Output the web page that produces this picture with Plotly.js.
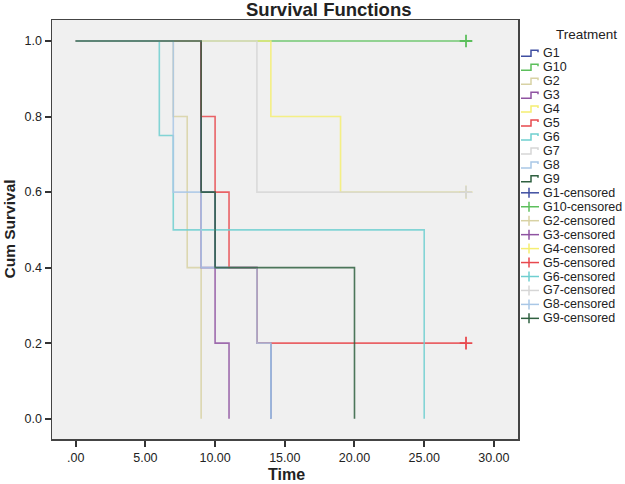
<!DOCTYPE html>
<html><head><meta charset="utf-8">
<script src="https://cdn.plot.ly/plotly-3.0.1.min.js"></script>
<style>html,body{margin:0;padding:0;background:#fff}#chart{width:625px;height:484px}</style>
</head><body><div id="chart"></div>
<script>
// ---- data ----
const groupNames = ["G1","G10","G2","G3","G4","G5","G6","G7","G8","G9"];
const groupColors = ["#3f4ea1","#5cbf5c","#d8d2a4","#8f53a1","#f5ee72","#e8494e","#6fcfd0","#d6d6d6","#a9c7e6","#2f6040"];

const g1Time  = [0, 9, 10, 13, 14];        const g1Surv  = [1, 0.6, 0.4, 0.2, 0];
const g10Time = [0, 28];                   const g10Surv = [1, 1];
const g2Time  = [0, 7, 8, 9];              const g2Surv  = [1, 0.8, 0.4, 0];
const g3Time  = [0, 9, 10, 11];            const g3Surv  = [1, 0.4, 0.2, 0];
const g4Time  = [0, 14, 19, 28];           const g4Surv  = [1, 0.8, 0.6, 0.6];
const g5Time  = [0, 9, 10, 11, 13, 28];    const g5Surv  = [1, 0.8, 0.6, 0.4, 0.2, 0.2];
const g6Time  = [0, 6, 7, 25];             const g6Surv  = [1, 0.75, 0.5, 0];
const g7Time  = [0, 13, 28];               const g7Surv  = [1, 0.6, 0.6];
const g8Time  = [0, 7, 9, 13, 14];         const g8Surv  = [1, 0.6, 0.4, 0.2, 0];
const g9Time  = [0, 9, 10, 20];            const g9Surv  = [1, 0.6, 0.4, 0];

const g1CensTime = [];    const g1CensSurv = [];
const g10CensTime = [28]; const g10CensSurv = [1];
const g2CensTime = [];    const g2CensSurv = [];
const g3CensTime = [];    const g3CensSurv = [];
const g4CensTime = [28];  const g4CensSurv = [0.6];
const g5CensTime = [28];  const g5CensSurv = [0.2];
const g6CensTime = [];    const g6CensSurv = [];
const g7CensTime = [28];  const g7CensSurv = [0.6];
const g8CensTime = [];    const g8CensSurv = [];
const g9CensTime = [];    const g9CensSurv = [];

const xTickVals = [0, 5, 10, 15, 20, 25, 30];
const xTickText = [".00", "5.00", "10.00", "15.00", "20.00", "25.00", "30.00"];
const yTickVals = [0, 0.2, 0.4, 0.6, 0.8, 1.0];
const yTickText = ["0.0", "0.2", "0.4", "0.6", "0.8", "1.0"];

const legendTitle = "Treatment";
const chartTitle = "Survival Functions";
const xTitle = "Time";
const yTitle = "Cum Survival";

// ---- build ----
const stepT = [g1Time,g10Time,g2Time,g3Time,g4Time,g5Time,g6Time,g7Time,g8Time,g9Time];
const stepS = [g1Surv,g10Surv,g2Surv,g3Surv,g4Surv,g5Surv,g6Surv,g7Surv,g8Surv,g9Surv];
const censT = [g1CensTime,g10CensTime,g2CensTime,g3CensTime,g4CensTime,g5CensTime,g6CensTime,g7CensTime,g8CensTime,g9CensTime];
const censS = [g1CensSurv,g10CensSurv,g2CensSurv,g3CensSurv,g4CensSurv,g5CensSurv,g6CensSurv,g7CensSurv,g8CensSurv,g9CensSurv];

const traces = [];
groupNames.forEach((g, i) => {
  traces.push({type:'scatter', mode:'lines', x: stepT[i], y: stepS[i], name: g,
    line:{shape:'hv', color: groupColors[i], width: 1.6}, opacity: 0.85, showlegend:false, hoverinfo:'skip'});
});
groupNames.forEach((g, i) => {
  traces.push({type:'scatter', mode:'markers', x: censT[i], y: censS[i], name: g + '-censored',
    marker:{symbol:'cross-thin-open', size:9, color: groupColors[i], line:{color: groupColors[i], width:1.8}},
    showlegend:false, hoverinfo:'skip'});
});

const W = 625, H = 484, ml = 52, mr = 107, mt = 20, mb = 45;
const pw = W - ml - mr, ph = H - mt - mb;
const px2x = px => (px - ml) / pw;
const py2y = py => (H - mb - py) / ph;

const shapes = [];
const annotations = [];
const font = 'Liberation Sans, Arial, sans-serif';

annotations.push({xref:'paper', yref:'paper', x: px2x(586), y: py2y(34), text: legendTitle, showarrow:false,
  xanchor:'center', yanchor:'middle', font:{family:font, size:13.5, color:'#222'}});

const entries = [];
groupNames.forEach((g, i) => entries.push({label: g, color: groupColors[i], kind: 'step'}));
groupNames.forEach((g, i) => entries.push({label: g + '-censored', color: groupColors[i], kind: 'cens'}));

entries.forEach((e, k) => {
  const cy = 53.3 + k * 13.95;
  const ln = {color: e.color, width: 1.5};
  if (e.kind === 'step') {
    shapes.push({type:'path', xref:'paper', yref:'paper', line: ln,
      path: `M ${px2x(521)} ${py2y(cy+3)} L ${px2x(531)} ${py2y(cy+3)} L ${px2x(531)} ${py2y(cy-3)} L ${px2x(538)} ${py2y(cy-3)} L ${px2x(538)} ${py2y(cy-1)}`});
  } else {
    shapes.push({type:'line', xref:'paper', yref:'paper', line: ln, x0: px2x(521), x1: px2x(539), y0: py2y(cy), y1: py2y(cy)});
    shapes.push({type:'line', xref:'paper', yref:'paper', line: ln, x0: px2x(529), x1: px2x(529), y0: py2y(cy-5), y1: py2y(cy+5)});
  }
  annotations.push({xref:'paper', yref:'paper', x: px2x(541), y: py2y(cy), text: e.label, showarrow:false,
    xanchor:'left', yanchor:'middle', font:{family:font, size:12.5, color:'#222'}});
});

annotations.push({xref:'paper', yref:'paper', x: px2x(329), y: py2y(10), text: '<b>' + chartTitle + '</b>', showarrow:false,
  xanchor:'center', yanchor:'middle', font:{family:font, size:18.5, color:'#222'}});
annotations.push({xref:'paper', yref:'paper', x: px2x(286), y: py2y(474.5), text: '<b>' + xTitle + '</b>', showarrow:false,
  xanchor:'center', yanchor:'middle', font:{family:font, size:16, color:'#222'}});
annotations.push({xref:'paper', yref:'paper', x: px2x(9), y: py2y(229.5), text: '<b>' + yTitle + '</b>', showarrow:false,
  textangle:-90, xanchor:'center', yanchor:'middle', font:{family:font, size:15.5, color:'#222'}});

const layout = {
  width: W, height: H,
  margin: {l: ml, r: mr, t: mt, b: mb, pad: 0},
  paper_bgcolor: '#ffffff', plot_bgcolor: '#f0f0f0',
  showlegend: false,
  xaxis: {range: [-1.7, 31.73], tickvals: xTickVals, ticktext: xTickText, ticks: 'outside', ticklen: 6, tickwidth: 2,
    tickcolor: '#333', showline: true, linecolor: '#444', linewidth: 1.5, mirror: true, showgrid: false, zeroline: false,
    tickfont: {family: font, size: 12.5, color: '#222'}, fixedrange: true},
  yaxis: {range: [-0.0537, 1.0556], tickvals: yTickVals, ticktext: yTickText, ticks: 'outside', ticklen: 6, tickwidth: 2,
    tickcolor: '#333', showline: true, linecolor: '#444', linewidth: 1.5, mirror: true, showgrid: false, zeroline: false,
    tickfont: {family: font, size: 12.5, color: '#222'}, fixedrange: true},
  shapes: shapes,
  annotations: annotations
};

Plotly.newPlot('chart', traces, layout, {displayModeBar: false, staticPlot: true});
</script>
</body></html>
